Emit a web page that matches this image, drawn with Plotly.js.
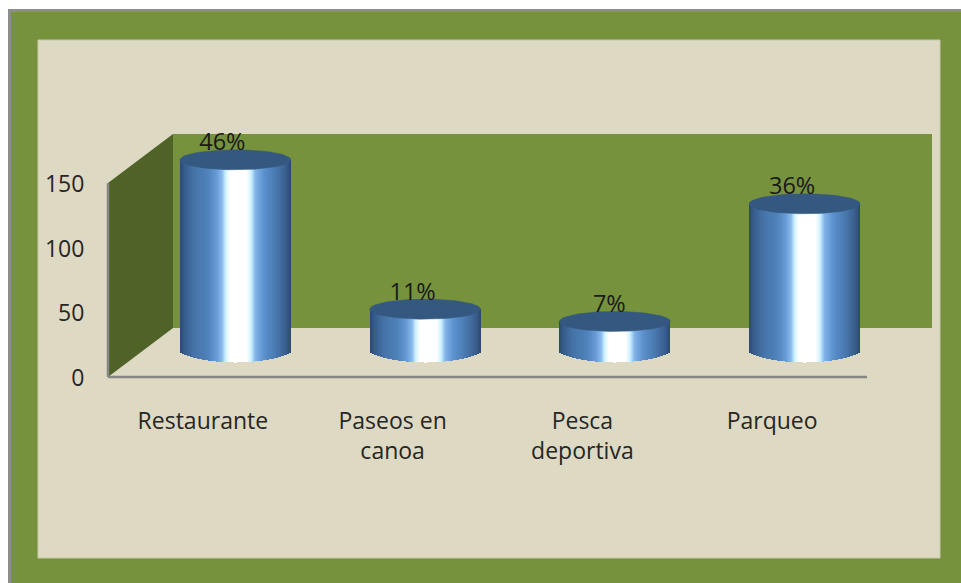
<!DOCTYPE html>
<html>
<head>
<meta charset="utf-8">
<script src="https://cdn.plot.ly/plotly-3.0.1.min.js"></script>
<style>html,body{margin:0;padding:0;background:#fff}#chart{width:961px;height:583px}</style>
</head>
<body>
<div id="chart"></div>
<script>
(function () {
const categories = ["Restaurante", "Paseos en<br>canoa", "Pesca<br>deportiva", "Parqueo"];
const values = [149, 33.5, 24, 115];
const percentLabels = ["46%", "11%", "7%", "36%"];
const yTicks = [0, 50, 100, 150];

const W = 961, H = 583;
const plot = {l: 100, r: 936, t: 130, b: 386};
const xOrigin = 108, catPx = 189.75, yOrigin = 377, valPx = 194 / 150;
const xVal = px => (px - xOrigin) / catPx - 0.5;
const yVal = px => (yOrigin - px) / valPx;
const depthX = 65 / catPx, depthY = 49 / valPx;
const cylW = 111 / catPx, cylRy = 10 / valPx;
const cylShiftX = 32.5 / catPx, cylShiftY = 24.5 / valPx;
const stops = [
  [0.00, [44, 74, 112]], [0.04, [54, 92, 138]], [0.12, [68, 114, 166]], [0.25, [78, 130, 186]],
  [0.33, [104, 154, 214]], [0.38, [140, 188, 238]], [0.41, [205, 242, 255]], [0.45, [255, 255, 255]],
  [0.60, [255, 255, 255]], [0.64, [205, 242, 255]], [0.68, [130, 178, 232]], [0.76, [90, 144, 204]],
  [0.88, [70, 116, 170]], [0.96, [56, 92, 136]], [1.00, [44, 72, 108]]
];
function shade(t) {
  for (let i = 1; i < stops.length; i++) {
    if (t <= stops[i][0]) {
      const a = stops[i - 1], b = stops[i], f = (t - a[0]) / (b[0] - a[0]);
      const c = a[1].map((v, k) => Math.round(v + (b[1][k] - v) * f));
      return `rgb(${c.join(",")})`;
    }
  }
  return "rgb(44,72,108)";
}

// cylinder bodies: vertical 1px bands of one bar trace
const strips = 111;
const bx = [], by = [], bBase = [], bCol = [], bW = [];
values.forEach((v, i) => {
  const cx = i + cylShiftX;
  for (let s = 0; s < strips; s++) {
    const t = (s + 0.5) / strips, u = 2 * t - 1;
    const drop = cylRy * Math.pow(Math.max(0, 1 - u * u), 0.8);
    bx.push(cx + (t - 0.5) * cylW);
    bBase.push(cylShiftY - drop);
    by.push(v + drop);
    bCol.push(shade(t));
    bW.push(cylW / strips * 1.15);
  }
});
const traces = [{
  type: "bar", x: bx, y: by, base: bBase, width: bW,
  marker: {color: bCol, line: {width: 0}}, hoverinfo: "skip", showlegend: false
}];
// cylinder caps
values.forEach((v, i) => {
  const cx = i + cylShiftX, cy = v + cylShiftY, xs = [], ys = [];
  for (let a = 0; a <= 72; a++) {
    const th = a / 72 * 2 * Math.PI;
    xs.push(cx + cylW / 2 * Math.cos(th));
    ys.push(cy + cylRy * Math.sin(th));
  }
  traces.push({
    type: "scatter", mode: "lines", x: xs, y: ys, fill: "toself", fillcolor: "#34587f",
    line: {color: "#34587f", width: 0.5}, hoverinfo: "skip", showlegend: false
  });
});
// percent labels
const labelShiftPx = [19.5, 20, 27, 20];
traces.push({
  type: "scatter", mode: "text",
  x: values.map((v, i) => i + labelShiftPx[i] / catPx),
  y: values.map(v => v + cylShiftY + 15.5 / valPx),
  text: percentLabels, textposition: "middle center",
  textfont: {family: "Open Sans, Noto Sans, sans-serif", size: 23.5, color: "#1a1a1a"},
  hoverinfo: "skip", showlegend: false, cliponaxis: false
});

const paperRect = (x0, y0, x1, y1, fill, line) => ({
  type: "rect", xref: "paper", yref: "paper", layer: "below",
  x0: (x0 - plot.l) / (plot.r - plot.l), x1: (x1 - plot.l) / (plot.r - plot.l),
  y0: (plot.b - y1) / (plot.b - plot.t), y1: (plot.b - y0) / (plot.b - plot.t),
  fillcolor: fill, line: line ? {color: line, width: 1} : {width: 0}
});
const xL = -0.5, xR = categories.length - 0.5, yTop = yTicks[yTicks.length - 1];
const shapes = [
  paperRect(8, 9, 961, 583, "#8c8c8c"),
  paperRect(11, 12, 961, 583, "#76923c"),
  paperRect(38, 40, 940, 558, "#ddd9c3", "#c9c9a8"),
  // back wall
  {type: "rect", xref: "x", yref: "y", layer: "below", x0: xL + depthX, x1: xR + depthX, y0: depthY, y1: yTop + depthY,
   fillcolor: "#76923c", line: {width: 0}},
  // side wall
  {type: "path", xref: "x", yref: "y", layer: "below",
   path: `M${xL},0 L${xL + depthX},${depthY} L${xL + depthX},${yTop + depthY} L${xL},${yTop} Z`,
   fillcolor: "#4f6228", line: {width: 0}},
  // axis lines
  {type: "line", xref: "x", yref: "y", layer: "below", x0: xL, x1: xL, y0: 0, y1: yTop, line: {color: "#868686", width: 2.5}},
  {type: "line", xref: "x", yref: "y", layer: "below", x0: xL, x1: xR, y0: 0, y1: 0, line: {color: "#868686", width: 2.5}}
];

const layout = {
  width: W, height: H,
  margin: {l: plot.l, r: W - plot.r, t: plot.t, b: H - plot.b, pad: 0},
  paper_bgcolor: "#ffffff", plot_bgcolor: "rgba(0,0,0,0)",
  showlegend: false, barmode: "overlay", bargap: 0,
  font: {family: "Open Sans, Noto Sans, sans-serif", size: 23, color: "#262626"},
  xaxis: {
    range: [xVal(plot.l), xVal(plot.r)], tickmode: "array", tickvals: [0, 1, 2, 3], ticktext: categories,
    showgrid: false, zeroline: false, showline: false, ticks: "outside", ticklen: 14, tickcolor: "rgba(0,0,0,0)",
    tickangle: 0, fixedrange: true, automargin: false
  },
  yaxis: {
    range: [yVal(plot.b), yVal(plot.t)], tickmode: "array", tickvals: yTicks, ticklabelshift: 1,
    showgrid: false, zeroline: false, showline: false, ticks: "outside", ticklen: 10, tickcolor: "rgba(0,0,0,0)",
    fixedrange: true, automargin: false
  },
  shapes: shapes
};
Plotly.newPlot("chart", traces, layout, {displayModeBar: false, staticPlot: true});
})();
</script>
</body>
</html>
